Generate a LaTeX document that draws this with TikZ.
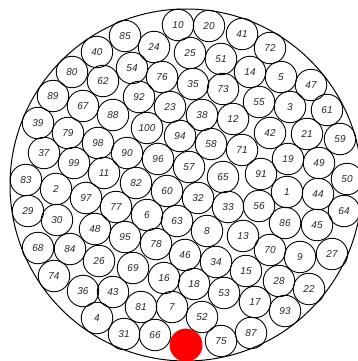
\documentclass[tikz,border=0pt]{standalone}
\usepackage{fontspec}
\setsansfont{Liberation Sans}
\begin{document}
\begin{tikzpicture}[x=1pt, y=-1pt, every node/.style={font=\sffamily\itshape, text=black!85},
  ball/.style={draw, circle, line width=0.9pt, minimum size=31.5pt, inner sep=0pt},
  hole/.style={circle, fill=red, minimum size=33pt, inner sep=0pt}]
  \clip (0,0) rectangle (358,361);
  \draw[line width=1pt] (186,185) circle (176);
  \foreach \n/\x/\y in {10/178/25, 20/209/26, 41/242/34, 72/270/48, 85/125/36, 24/154/47,
      25/190/53, 51/221/59, 14/250/72, 5/281/77, 47/311/85, 40/97/52, 54/132/68, 76/162/77,
      35/193/84, 73/223/89, 55/259/102, 3/290/107, 61/327/110, 80/72/72, 62/103/81,
      92/139/97, 23/170/107, 38/202/115, 12/233/119, 42/270/133, 21/307/134, 59/340/139,
      89/53/96, 67/83/106, 88/113/115, 100/147/128, 94/180/136, 58/211/144, 71/242/150,
      19/288/159, 49/319/163, 39/38/123, 79/68/133, 98/98/143, 90/127/153, 96/158/159,
      57/189/167, 65/223/177, 91/261/174, 1/287/192, 44/318/194, 50/347/179, 37/44/153,
      99/74/163, 11/104/173, 82/136/183, 60/167/191, 32/198/198, 33/228/207, 56/259/206,
      86/285/223, 45/317/225, 64/344/211, 83/26/180, 2/56/189, 97/86/198, 77/116/207,
      6/147/215, 63/177/221, 8/207/231, 13/243/236, 70/270/250, 9/300/257, 27/332/254,
      29/28/211, 30/57/220, 48/95/229, 95/125/237, 78/156/244, 46/185/255, 34/216/262,
      15/246/271, 28/279/281, 22/309/289, 68/38/248, 84/70/249, 26/99/261, 69/133/268,
      16/164/278, 18/194/284, 53/224/293, 17/255/302, 93/285/311, 74/54/276, 36/83/291,
      43/113/292, 81/141/307, 7/172/307, 52/202/317, 87/251/333, 75/221/341, 4/97/318,
      31/124/334, 66/155/335}
    \node[ball] (b\n) at (\x,\y) {\n};
  % the empty slot
  \node[hole] (gap) at (186,345) {};
\end{tikzpicture}
\end{document}
